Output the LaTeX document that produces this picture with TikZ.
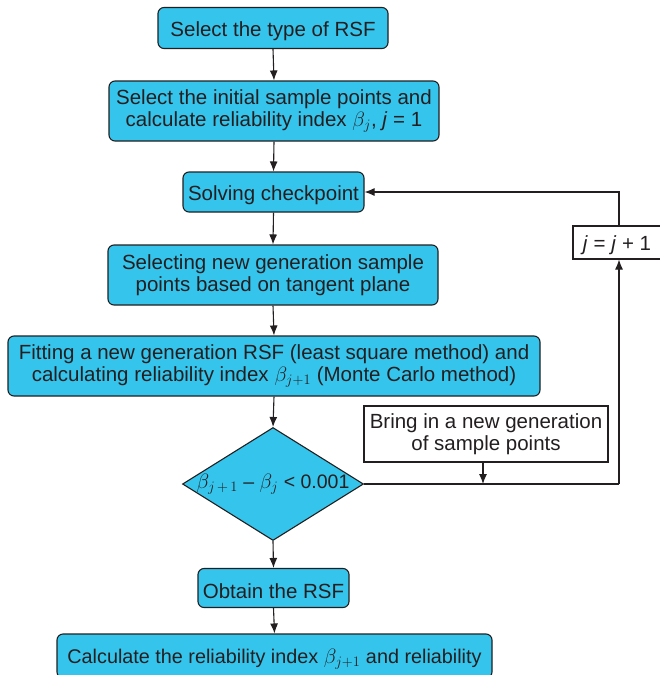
\documentclass[tikz,border=0pt]{standalone}
\usepackage{fontspec}
\setmainfont{Liberation Sans}
\usetikzlibrary{shapes.geometric,arrows.meta}
\definecolor{boxfill}{RGB}{53,196,236}
\definecolor{edge}{RGB}{35,31,32}
\begin{document}
\begin{tikzpicture}[x=1pt,y=-1pt,
  font=\fontsize{20.5}{22.5}\selectfont,
  flow/.style={draw=edge,line width=1.1pt,fill=boxfill,rounded corners=6pt,align=center,inner sep=0pt,text=edge,execute at begin node={\rule{0pt}{21pt}}},
  plain/.style={draw=edge,line width=1.1pt,fill=white,align=center,inner sep=0pt,text=edge,execute at begin node={\rule{0pt}{20pt}}},
  decision/.style={draw=edge,line width=1.1pt,fill=boxfill,shape=diamond,inner sep=0pt,text=edge,font=\fontsize{19.5}{22}\selectfont},
  arr/.style={draw=edge,line width=1.1pt,-{Latex[length=10pt,width=8pt]}},
  ln/.style={draw=edge,line width=1.1pt}]
\useasboundingbox (0,0) rectangle (660,675);
\node[flow,minimum width=230,minimum height=41] (n1) at (273,28) {Select the type of RSF};
\node[flow,minimum width=330,minimum height=60] (n2) at (274,111) {Select the initial sample points and\\calculate reliability index $\beta_j$, \textit{j} = 1};
\node[flow,minimum width=181,minimum height=40] (n3) at (273.5,192) {Solving checkpoint};
\node[flow,minimum width=330,minimum height=60] (n4) at (273,275) {Selecting new generation sample\\points based on tangent plane};
\node[flow,minimum width=532,minimum height=60] (n5) at (274,366) {Fitting a new generation RSF (least square method) and\\calculating reliability index $\beta_{j+1}$ (Monte Carlo method)};
\node[decision,minimum width=181,minimum height=113] (d) at (273,484) {\makebox[0pt]{$\beta_{j\,+\,1}$ -- $\beta_j$ < 0.001}};
\node[flow,minimum width=151,minimum height=39] (n7) at (273.5,588) {Obtain the RSF};
\node[flow,minimum width=435,minimum height=44,font=\fontsize{19.8}{22}\selectfont] (n8) at (274.5,656) {Calculate the reliability index $\beta_{j+1}$ and reliability};
\node[plain,minimum width=88,minimum height=33] (j) at (617,242.5) {\textit{j} = \textit{j} + 1};
\node[plain,minimum width=244,minimum height=56] (b) at (486,434) {Bring in a new generation\\of sample points};
\draw[arr] (n1.south) -- (n2.north);
\draw[arr] (n2.south) -- (n3.north);
\draw[arr] (n3.south) -- (n4.north);
\draw[arr] (n4.south) -- (n5.north);
\draw[arr] (n5.south) -- (d.north);
\draw[arr] (d.south) -- (n7.north);
\draw[arr] (n7.south) -- (n8.north);
\coordinate (c1) at (619,484);
\draw[ln] (d.east) -- (c1);
\draw[arr] (c1) -- (c1 |- j.south);
\draw[arr] (c1 |- j.north) |- (n3.east);
\draw[arr] (b.south -| 483,0) -- (483,484);
\end{tikzpicture}
\end{document}
